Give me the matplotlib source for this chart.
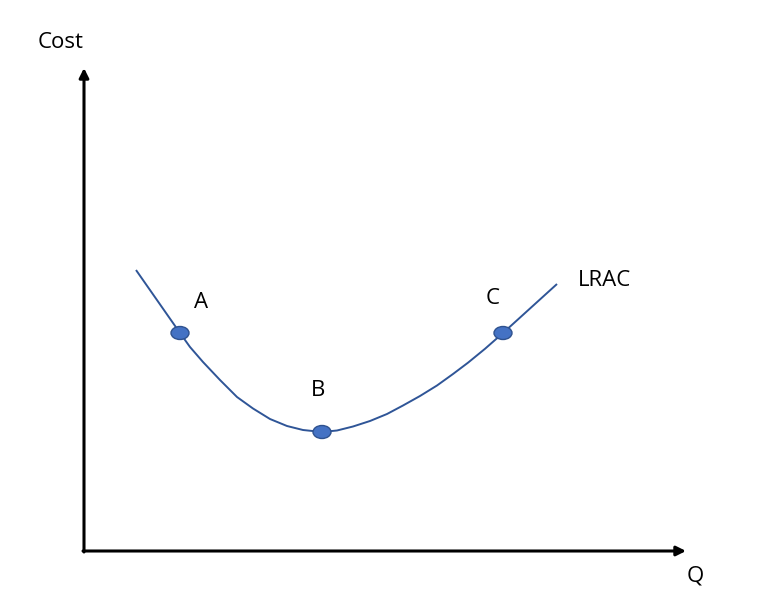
import matplotlib
matplotlib.use("Agg")
import matplotlib.pyplot as plt
from matplotlib.patches import Ellipse

# LRAC curve (Q, Cost) in arbitrary units
q_curve = [5.2, 7.4, 9.6, 10.6, 11.9, 13.6, 15.3, 16.9, 18.6, 20.3, 21.9, 23.8,
           25.3, 26.9, 28.6, 30.3, 31.9, 33.6, 35.3, 36.9, 38.4, 40.1, 41.9, 44.6, 47.3]
cost_curve = [28.1, 24.95, 21.8, 20.4, 18.9, 17.1, 15.4, 14.25, 13.2, 12.5, 12.1, 11.9,
              12.05, 12.45, 13.0, 13.7, 14.55, 15.5, 16.55, 17.7, 18.83, 20.22, 21.8, 24.25, 26.7]

# labelled points
point_names = ["A", "B", "C"]
point_q = [9.6, 23.8, 41.9]
point_cost = [21.8, 11.9, 21.8]

q_axis_max = 60.2
cost_axis_max = 48.3

fig = plt.figure(figsize=(7.65, 6.05), dpi=100)
ax = fig.add_axes([0, 0, 1, 1])
ax.set_xlim(-8.4, 68.1)
ax.set_ylim(-5.4, 55.1)
ax.axis("off")

font = dict(family=["Open Sans", "DejaVu Sans"], fontsize=16, color="black")

# axes with arrows
ax.annotate("", xy=(0, cost_axis_max), xytext=(0, -0.1),
            arrowprops=dict(arrowstyle="-|>", lw=2.2, color="black", mutation_scale=14, shrinkA=0, shrinkB=0))
ax.annotate("", xy=(q_axis_max, 0), xytext=(-0.1, 0),
            arrowprops=dict(arrowstyle="-|>", lw=2.2, color="black", mutation_scale=14, shrinkA=0, shrinkB=0))

ax.plot(q_curve, cost_curve, color="#2F5597", lw=1.4, solid_capstyle="butt",
        solid_joinstyle="round", zorder=2)

for qx, cy in zip(point_q, point_cost):
    ax.add_patch(Ellipse((qx, cy), 1.8, 1.3, facecolor="#4472C4", edgecolor="#2F528F", lw=1.0, zorder=3))

label_offsets = {"A": (2.1, 3.05), "B": (-0.4, 4.15), "C": (-1.0, 3.45)}
for name, qx, cy in zip(point_names, point_q, point_cost):
    dx, dy = label_offsets[name]
    ax.text(qx + dx, cy + dy, name, ha="center", va="center", **font)

ax.text(q_curve[-1] + 4.7, cost_curve[-1] + 0.3, "LRAC", ha="center", va="center", **font)
ax.text(-2.35, 50.8, "Cost", ha="center", va="center", **font)
ax.text(61.1, -2.5, "Q", ha="center", va="center", **font)

fig.savefig("out.png", dpi=100)
